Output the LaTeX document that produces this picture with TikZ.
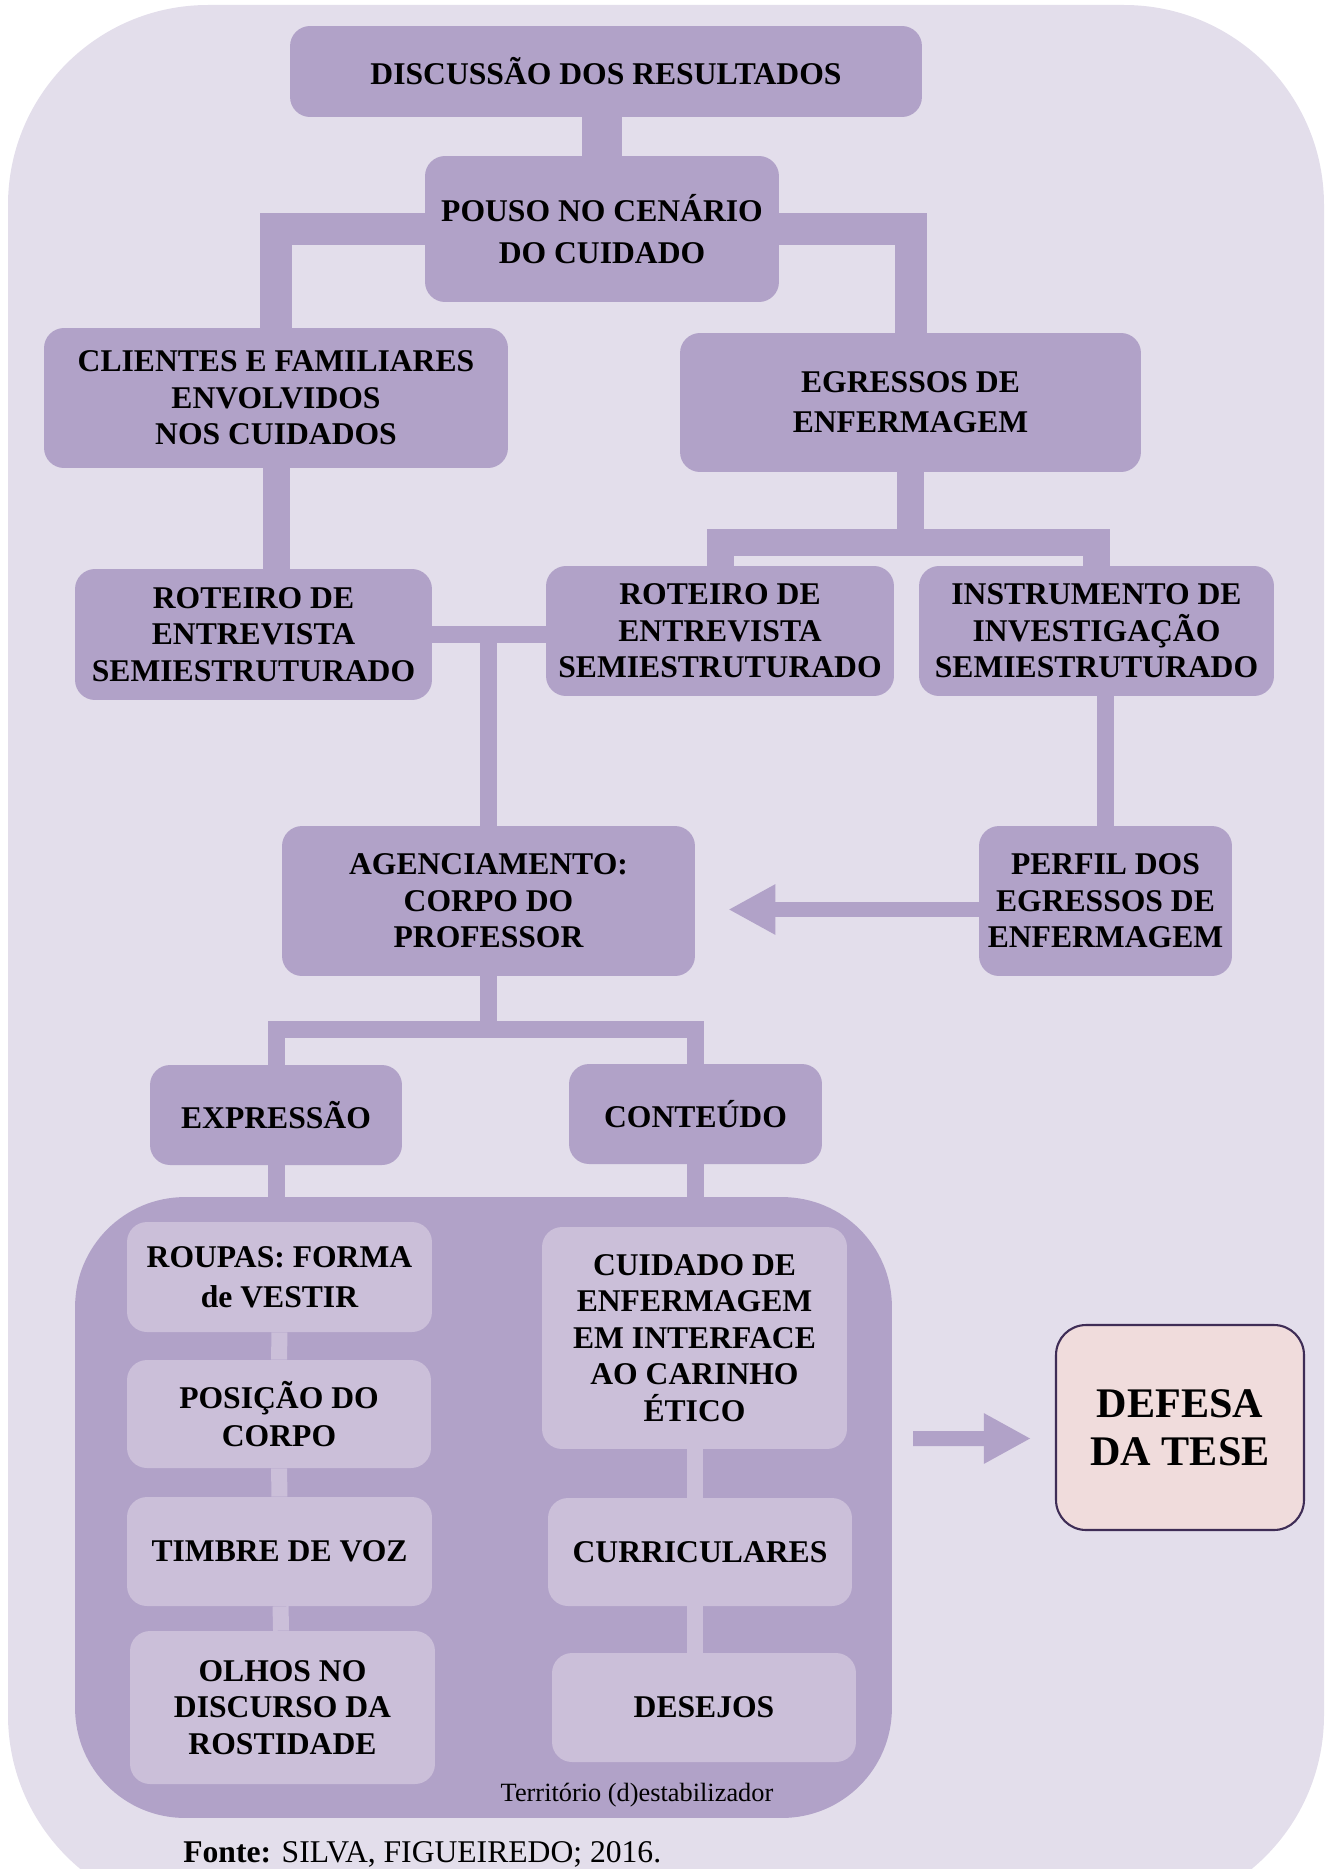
\documentclass[tikz,border=0pt]{standalone}
\usepackage{fontspec}
\setmainfont{Liberation Serif}
\usetikzlibrary{arrows.meta}
\definecolor{bgcol}{HTML}{E3DEEB}
\definecolor{boxcol}{HTML}{B1A2C8}
\definecolor{softcol}{HTML}{CBBFD9}
\definecolor{tesefill}{HTML}{F0DCDC}
\definecolor{teseline}{HTML}{3F2D56}
\begin{document}
\begin{tikzpicture}
	[x=0.02cm, y=-0.02cm, inner sep=0mm,
	box/.style={rectangle,rounded corners=0.4cm,fill=boxcol,align=center,font=\bfseries\fontsize{18}{20.8}\selectfont},
	soft/.style={box,fill=softcol},
	bar/.style={draw=boxcol,line width=0.54cm},
	thinbar/.style={draw=boxcol,line width=0.34cm},
	softbar/.style={draw=softcol,line width=0.32cm},
	arrowbar/.style={draw=boxcol,line width=0.3cm,-{Triangle[length=0.94cm,width=0.94cm]}}]
	\useasboundingbox (0, 0) rectangle (1327, 1869);
	\clip (0, 0) rectangle (1327, 1869);
	\fill [bgcol, rounded corners=4cm] (8, 5) rectangle (1324, 1915);
	\node (disc) at (606, 71.5) [box, minimum width=12.64cm, minimum height=1.82cm] {DISCUSSÃO DOS RESULTADOS};
	\node (pouso) at (602, 229) [box, minimum width=7.08cm, minimum height=2.92cm, font=\bfseries\fontsize{18}{24.3}\selectfont] {POUSO NO CENÁRIO\\DO CUIDADO};
	\node (clientes) at (276, 398) [box, minimum width=9.28cm, minimum height=2.8cm] {CLIENTES E FAMILIARES\\ENVOLVIDOS\\NOS CUIDADOS};
	\node (egressos) at (910.5, 402.5) [box, minimum width=9.22cm, minimum height=2.78cm, font=\bfseries\fontsize{18}{22.8}\selectfont] {EGRESSOS DE\\ENFERMAGEM};
	\node (rot1) at (253.5, 634.5) [box, minimum width=7.14cm, minimum height=2.62cm] {ROTEIRO DE\\ENTREVISTA\\SEMIESTRUTURADO};
	\node (rot2) at (720, 631) [box, minimum width=6.96cm, minimum height=2.6cm] {ROTEIRO DE\\ENTREVISTA\\SEMIESTRUTURADO};
	\node (instr) at (1096.5, 631) [box, minimum width=7.1cm, minimum height=2.6cm] {INSTRUMENTO DE\\INVESTIGAÇÃO\\SEMIESTRUTURADO};
	\node (agenc) at (488.5, 901) [box, minimum width=8.26cm, minimum height=3cm] {AGENCIAMENTO:\\CORPO DO\\PROFESSOR};
	\node (perfil) at (1105.5, 901) [box, minimum width=5.06cm, minimum height=3cm] {PERFIL DOS\\EGRESSOS DE\\ENFERMAGEM};
	\node (expr) at (276, 1115) [box, minimum width=5.04cm, minimum height=2cm] {EXPRESSÃO};
	\node (cont) at (695.5, 1114) [box, minimum width=5.06cm, minimum height=2cm] {CONTEÚDO};
	\node (terr) at (483.5, 1507.5) [box, rounded corners=2.2cm, minimum width=16.34cm, minimum height=12.42cm] {};
	\node (roupas) at (279.5, 1277) [soft, minimum width=6.1cm, minimum height=2.2cm, font=\bfseries\fontsize{18}{22.8}\selectfont] {ROUPAS: FORMA\\de VESTIR};
	\node (posicao) at (279, 1414) [soft, minimum width=6.08cm, minimum height=2.16cm, font=\bfseries\fontsize{18}{21.6}\selectfont] {POSIÇÃO DO\\CORPO};
	\node (timbre) at (279.5, 1551.5) [soft, minimum width=6.1cm, minimum height=2.18cm] {TIMBRE DE VOZ};
	\node (olhos) at (282.5, 1707.5) [soft, minimum width=6.1cm, minimum height=3.06cm] {OLHOS NO\\DISCURSO DA\\ROSTIDADE};
	\node (cuidado) at (694.5, 1338) [soft, minimum width=6.1cm, minimum height=4.44cm] {CUIDADO DE\\ENFERMAGEM\\EM INTERFACE\\AO CARINHO\\ÉTICO};
	\node (curric) at (700, 1552) [soft, minimum width=6.08cm, minimum height=2.16cm] {CURRICULARES};
	\node (desejos) at (704, 1707.5) [soft, minimum width=6.08cm, minimum height=2.18cm] {DESEJOS};
	\node (terrlabel) at (637, 1795) [font=\fontsize{15}{17}\selectfont] {Território (d)estabilizador};
	\node (defesa) at (1180, 1427.5) [box, fill=tesefill, draw=teseline, line width=1.2pt, rounded corners=0.6cm, minimum width=4.96cm, minimum height=4.1cm, font=\bfseries\fontsize{24}{27.3}\selectfont] {DEFESA\\DA TESE};
	\node (fonte) at (183, 1862) [anchor=base west, font=\fontsize{18}{20}\selectfont] {\textbf{Fonte:} SILVA, FIGUEIREDO; 2016.};
	\coordinate (egjoint) at (916, 542);
	\coordinate (agjoint) at (481, 1029);
	\coordinate (tesestart) at (913, 1438.5);
	\draw [bar, line width=0.8cm] (pouso) -- (pouso |- disc.south);
	\draw [bar, line width=0.64cm] (pouso) -| (clientes);
	\draw [bar, line width=0.64cm] (pouso) -| (egressos);
	\draw [bar] (clientes) -- (clientes |- rot1.north);
	\draw [bar] (egressos) -- (egressos |- egjoint);
	\draw [bar] (rot2) |- (egjoint) -| (instr);
	\draw [thinbar] (rot1.east) -- (rot1.east -| rot2.west);
	\draw [thinbar] (agenc) -- (agenc |- rot1.east);
	\draw [thinbar] (perfil) -- (perfil |- instr.south);
	\draw [arrowbar] ([yshift=-0.17cm]perfil.west) -- ([xshift=0.66cm, yshift=-0.17cm]agenc.east);
	\draw [thinbar] (agenc) -- (agenc |- agjoint);
	\draw [thinbar] (expr) |- (agjoint) -| (cont);
	\draw [thinbar] (expr) -- (expr |- terr.north);
	\draw [thinbar] (cont) -- (cont |- terr.north);
	\draw [softbar] (roupas) -- (posicao);
	\draw [softbar] (posicao) -- (timbre);
	\draw [softbar] (timbre) -- (olhos);
	\draw [softbar] (cuidado) -- (cuidado |- curric.north);
	\draw [softbar] (curric.south -| cuidado) -- (cuidado |- desejos.north);
	\draw [arrowbar] (tesestart) -- ([xshift=-0.48cm, yshift=-0.22cm]defesa.west);
\end{tikzpicture}
\end{document}
